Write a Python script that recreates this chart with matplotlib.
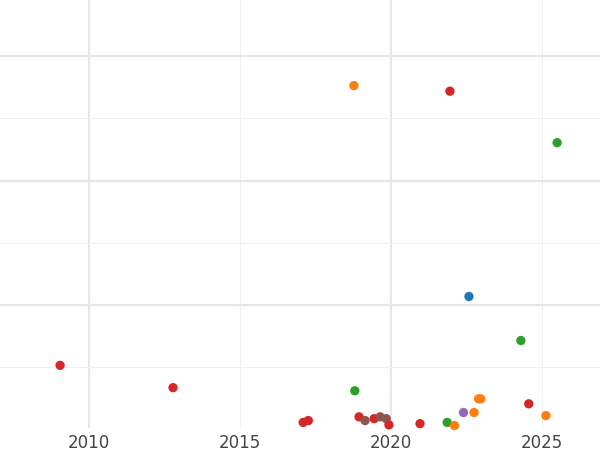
import matplotlib
matplotlib.use("Agg")
import matplotlib.pyplot as plt
from matplotlib.ticker import MultipleLocator

years = [2009.04, 2012.78, 2018.77, 2021.95, 2025.5, 2022.58, 2024.3, 2018.8, 2024.56, 2025.13,
         2022.9, 2022.97, 2022.75, 2022.4, 2017.09, 2017.26, 2018.94, 2019.14, 2019.44, 2019.64,
         2019.84, 2019.93, 2020.96, 2021.86, 2022.1]
values = [1.02, 0.66, 5.53, 5.44, 4.61, 2.13, 1.42, 0.61, 0.40, 0.21,
          0.48, 0.48, 0.26, 0.26, 0.10, 0.13, 0.19, 0.13, 0.16, 0.19,
          0.16, 0.06, 0.08, 0.10, 0.05]
groups = ["red", "red", "orange", "red", "green", "blue", "green", "green", "red", "orange",
          "orange", "orange", "orange", "purple", "red", "red", "red", "brown", "red", "brown",
          "brown", "red", "red", "green", "orange"]
palette = {"blue": "#1f77b4", "orange": "#ff7f0e", "green": "#2ca02c", "red": "#d62728",
           "purple": "#9467bd", "brown": "#8c564b"}

fig = plt.figure(figsize=(6, 4.5), dpi=100)
ax = fig.add_axes([0, 22/450, 1, 428/450])
ax.scatter(years, values, c=[palette[g] for g in groups], s=45, zorder=3, linewidths=0, clip_on=False)
ax.set_xlim(2007.05, 2026.92)
ax.set_ylim(0.01, 6.91)
ax.yaxis.set_major_locator(MultipleLocator(2))
ax.yaxis.set_minor_locator(MultipleLocator(1))
ax.set_xticks([2010, 2020])
ax.set_xticks([2015, 2025], minor=True)
ax.set_xticklabels(["2010", "2020"])
ax.set_xticklabels(["2015", "2025"], minor=True)
ax.grid(True, which="major", color="#e6e6e6", linewidth=1.5)
ax.grid(True, which="minor", color="#f0f0f0", linewidth=0.8)
for lab in ax.get_xticklabels(which="both"):
    lab.set_color("#444444")
    lab.set_fontsize(12)
ax.tick_params(axis="x", which="both", length=0, pad=4)
ax.tick_params(axis="y", which="both", length=0, labelleft=False)
for s in ax.spines.values():
    s.set_visible(False)
fig.savefig("out.png")
